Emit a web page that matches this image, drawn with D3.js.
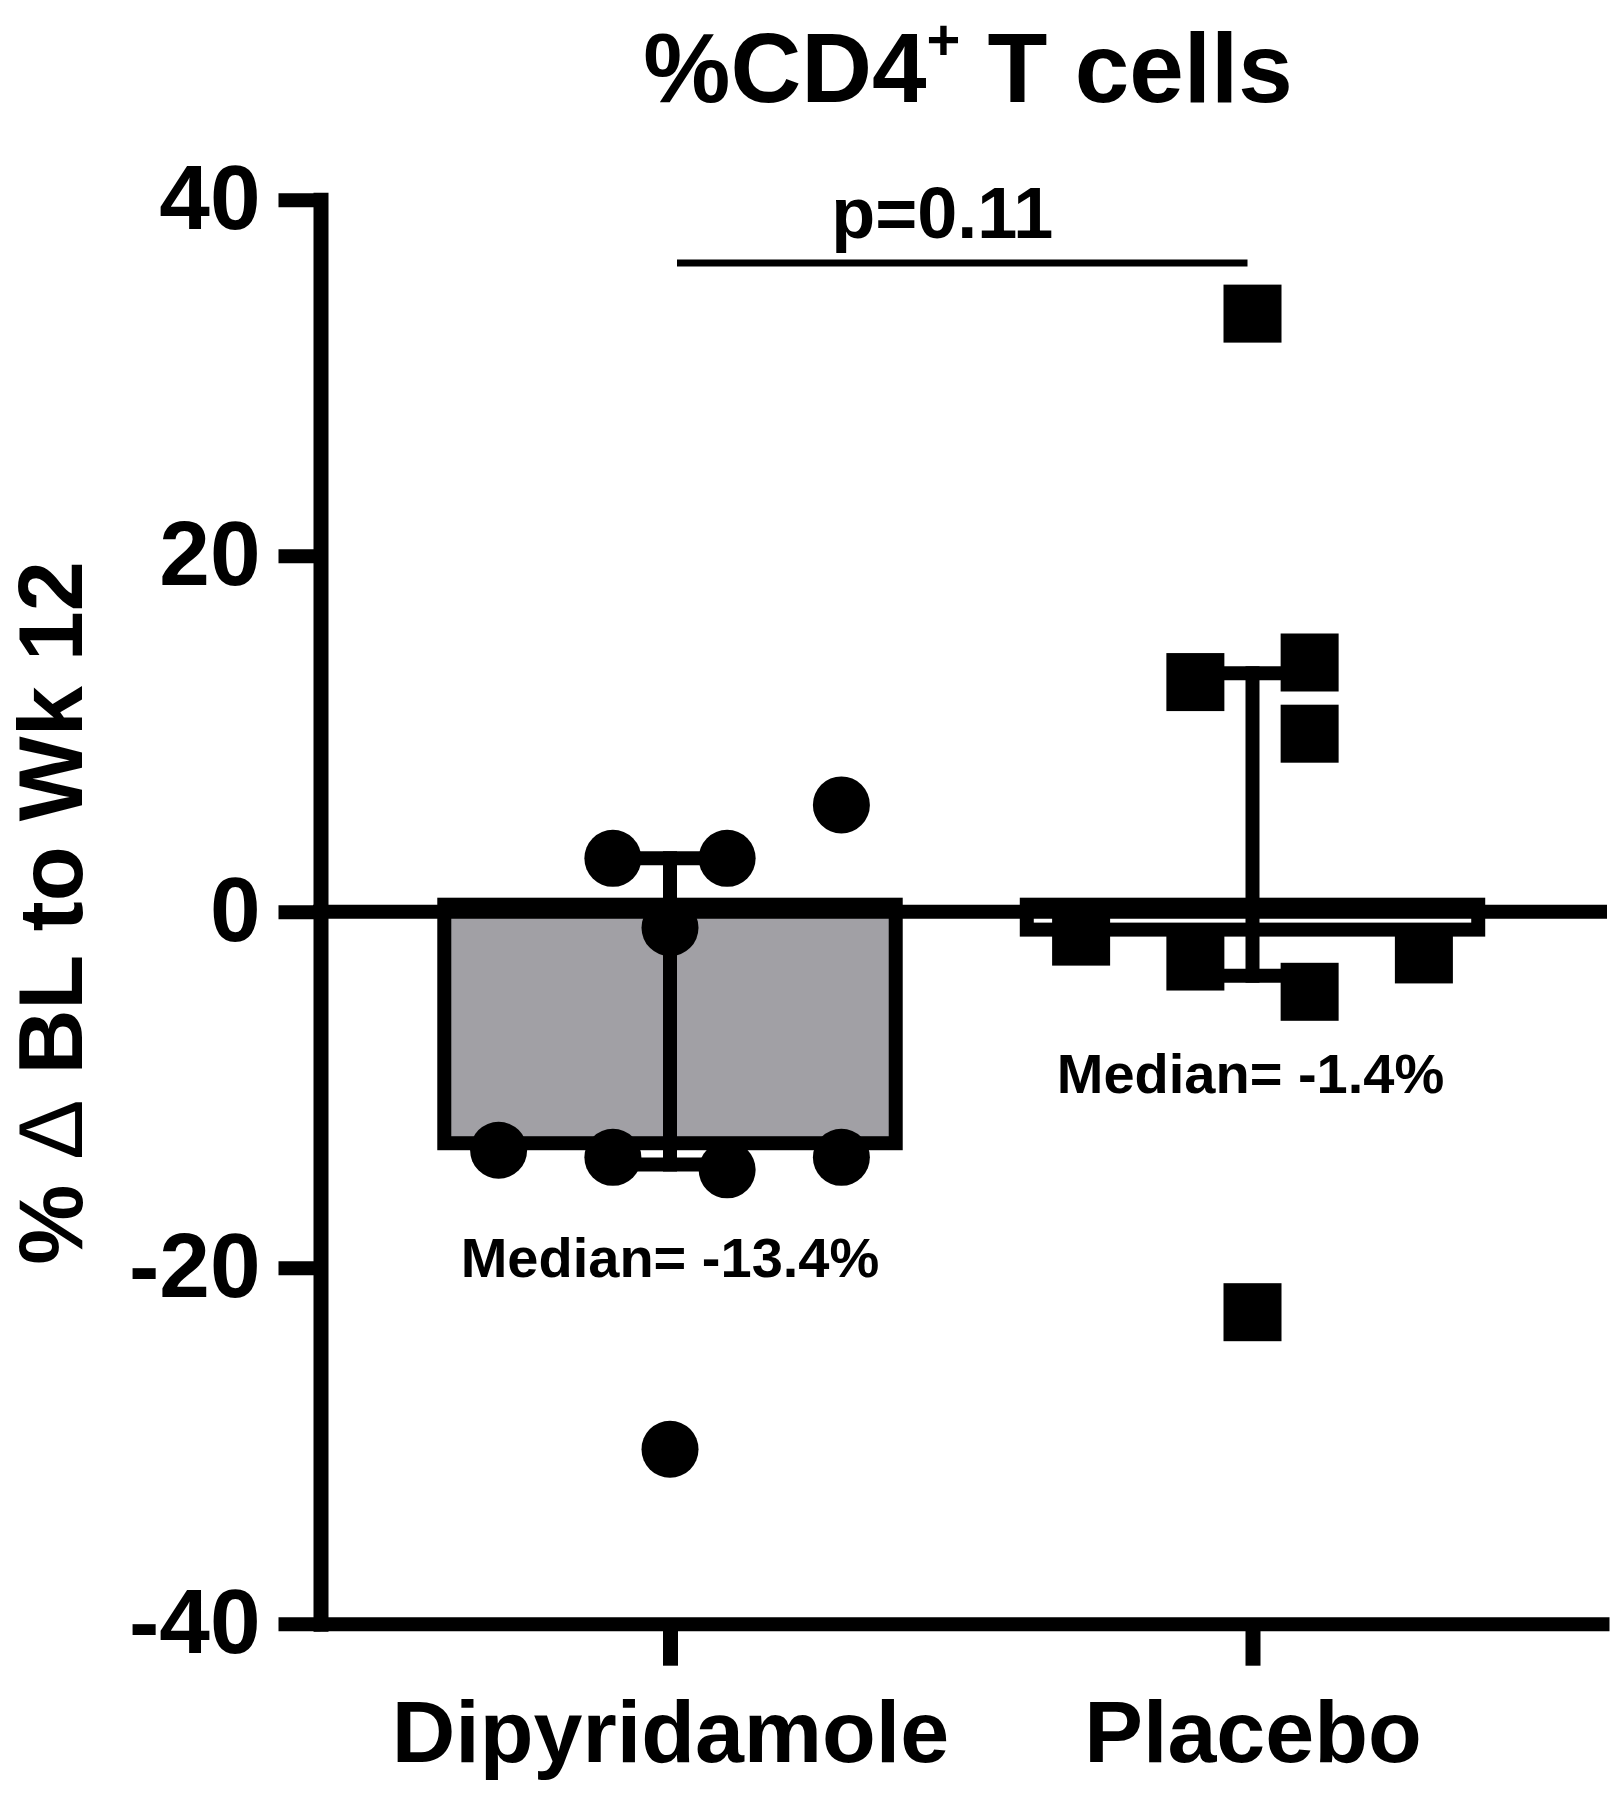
<!DOCTYPE html>
<html>
<head>
<meta charset="utf-8">
<script src="https://cdn.jsdelivr.net/npm/d3@7"></script>
<style>
    body { margin: 0; background: #fff; }
    text { font-family: "Liberation Sans", Arial, sans-serif; font-weight: bold; fill: #000; }
</style>
</head>
<body>
<svg class="chart"></svg>
<script>
var width = 1614;
var height = 1800;

// data
var groups = ["Dipyridamole", "Placebo"];
var dipValues = [3.0, 3.0, 6.0, -0.9, -13.4, -13.8, -14.5, -13.8, -30.2];
var dipSlots = [-1, 1, 3, 0, -3, -1, 1, 3, 0];   // column-scatter slot of each point
var plaValues = [33.6, 12.9, 14.0, 10.0, -1.4, -2.8, -4.5, -2.4, -22.5];
var plaSlots = [0, -1, 1, 1, -3, -1, 1, 3, 0];
var medians = [-13.4, -1.4];
var quartiles = [[-14.2, 3.0], [-3.6, 13.4]];
var yTicks = [-40, -20, 0, 20, 40];
var medianLabels = ["Median= -13.4%", "Median= -1.4%"];
var medianLabelAt = [-20.5, -10.2];
var pLabel = "p=0.11";
var pLineAt = 36.45;

var lw = 14;       // line weight
var sym = 58;      // symbol size

var chart = d3.select(".chart")
    .attr("width", width)
    .attr("height", height);

var y = d3.scaleLinear()
    .domain([-40, 40])
    .range([1623.7, 199.7]);

var x = d3.scalePoint()
    .domain(groups)
    .range([320.5, 1602])
    .padding(0.6);

var barW = x.step() * 0.775;

// bars (stroke drawn inside the value)
chart.selectAll("rect.bar")
    .data(groups)
    .enter()
    .append("rect")
    .attr("class", "bar")
    .attr("x", function(d) { return x(d) - barW / 2; })
    .attr("y", y(0) - lw / 2)
    .attr("width", barW)
    .attr("height", function(d, i) { return y(medians[i]) - y(0); })
    .attr("fill", function(d, i) { return i == 0 ? "#a1a0a5" : "#fff"; })
    .attr("stroke", "#000")
    .attr("stroke-width", lw);

// y axis
var yAxis = chart.append("g")
    .attr("transform", "translate(" + x.range()[0] + ",0)")
    .call(d3.axisLeft(y)
        .tickValues(yTicks)
        .tickFormat(function(d) { return String(d); })
        .tickSize(42).tickSizeOuter(0).tickPadding(18));

yAxis.select(".domain")
    .attr("stroke-width", 15)
    .attr("stroke-linecap", "square");
yAxis.selectAll(".tick line").attr("stroke-width", lw);
yAxis.selectAll(".tick text")
    .attr("font-size", 91)
    .attr("font-family", null);

// x axis at the bottom
var xAxis = chart.append("g")
    .attr("transform", "translate(0," + y(-40) + ")")
    .call(d3.axisBottom(x).tickSize(42).tickSizeOuter(0));

xAxis.select(".domain")
    .attr("stroke-width", lw)
    .attr("stroke-linecap", "square");
xAxis.selectAll(".tick line").attr("stroke-width", 15);
xAxis.selectAll(".tick text")
    .attr("font-size", 88)
    .attr("font-family", null)
    .attr("dy", null)
    .attr("y", 138);

// zero line
chart.append("line")
    .attr("x1", x.range()[0] - 7.5)
    .attr("x2", 1607)
    .attr("y1", y(0))
    .attr("y2", y(0))
    .attr("stroke", "#000")
    .attr("stroke-width", lw);

// median + interquartile error bars
var eb = chart.selectAll("g.eb")
    .data(groups)
    .enter()
    .append("g")
    .attr("class", "eb")
    .attr("stroke", "#000")
    .attr("stroke-width", lw);

eb.append("line")
    .attr("x1", function(d) { return x(d); })
    .attr("x2", function(d) { return x(d); })
    .attr("y1", function(d, i) { return y(quartiles[i][0]); })
    .attr("y2", function(d, i) { return y(quartiles[i][1]); })
    .attr("stroke-linecap", "square");

[0, 1].forEach(function(k) {
    eb.append("line")
        .attr("x1", function(d) { return x(d) - 45; })
        .attr("x2", function(d) { return x(d) + 45; })
        .attr("y1", function(d, i) { return y(quartiles[i][k]); })
        .attr("y2", function(d, i) { return y(quartiles[i][k]); });
});

// points
chart.selectAll("circle.dip")
    .data(dipValues)
    .enter()
    .append("circle")
    .attr("class", "dip")
    .attr("cx", function(d, i) { return x(groups[0]) + dipSlots[i] * sym * 0.985; })
    .attr("cy", function(d) { return y(d); })
    .attr("r", sym / 2 - 0.5)
    .attr("fill", "#000");

chart.selectAll("rect.pla")
    .data(plaValues)
    .enter()
    .append("rect")
    .attr("class", "pla")
    .attr("x", function(d, i) { return x(groups[1]) + plaSlots[i] * sym * 0.985 - sym / 2; })
    .attr("y", function(d) { return y(d) - sym / 2; })
    .attr("width", sym)
    .attr("height", sym)
    .attr("fill", "#000");

// median labels
chart.selectAll("text.med")
    .data(medianLabels)
    .enter()
    .append("text")
    .attr("class", "med")
    .attr("x", function(d, i) { return x(groups[i]) - (i == 0 ? 0 : 2); })
    .attr("y", function(d, i) { return y(medianLabelAt[i]); })
    .attr("text-anchor", "middle")
    .attr("font-size", 56)
    .text(function(d) { return d; });

// significance bar
chart.append("line")
    .attr("x1", x(groups[0]) + 7)
    .attr("x2", x(groups[1]) - 5)
    .attr("y1", y(pLineAt))
    .attr("y2", y(pLineAt))
    .attr("stroke", "#000")
    .attr("stroke-width", 7);

chart.append("text")
    .attr("x", (x(groups[0]) + x(groups[1])) / 2 - 19)
    .attr("y", 238)
    .attr("text-anchor", "middle")
    .attr("font-size", 72)
    .text(pLabel);

// title
var title = chart.append("text")
    .attr("x", 968)
    .attr("y", 102)
    .attr("text-anchor", "middle")
    .attr("font-size", 98);
title.append("tspan").text("%CD4");
title.append("tspan").attr("font-size", 58).attr("dy", -42).text("+");
title.append("tspan").attr("dy", 42).text("\u00a0T\u00a0cells");

// y axis title
var yt = chart.append("text")
    .attr("transform", "translate(82,913) rotate(-90)")
    .attr("text-anchor", "middle")
    .attr("font-size", 90);
yt.append("tspan").text("% ");
yt.append("tspan").attr("font-weight", "normal").text("\u0394");
yt.append("tspan").text(" BL to Wk 12");
</script>
</body>
</html>
